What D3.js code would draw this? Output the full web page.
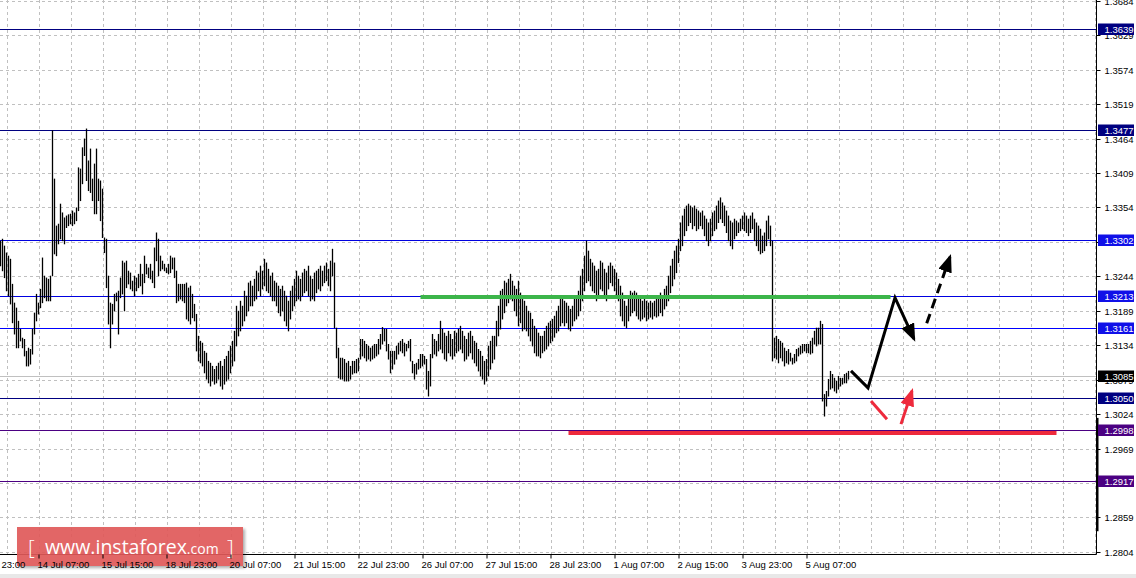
<!DOCTYPE html>
<html><head><meta charset="utf-8">
<script src="https://cdn.jsdelivr.net/npm/d3@7"></script>
<style>
html,body{margin:0;padding:0;background:#fff;}
svg{display:block;}
</style></head><body>
<svg id="c" width="1136" height="578"></svg>
<script>
// ---- data (H1 bars: high / low) ----
const highs=[
1.3301,1.3304,1.3293,1.3282,1.3277,1.3272,1.3232,1.3202,1.3194,1.3173,
1.3160,1.3146,1.3144,1.3125,1.3130,1.3128,1.3160,1.3186,1.3216,1.3202,
1.3224,1.3274,1.3245,1.3242,1.3240,1.3245,1.3477,1.3400,1.3325,1.3328,
1.3360,1.3346,1.3338,1.3341,1.3343,1.3344,1.3349,1.3346,1.3354,1.3418,
1.3416,1.3450,1.3464,1.3480,1.3429,1.3448,1.3400,1.3424,1.3448,1.3400,
1.3397,1.3384,1.3306,1.3304,1.3245,1.3202,1.3200,1.3216,1.3218,1.3221,
1.3242,1.3269,1.3266,1.3269,1.3253,1.3250,1.3237,1.3245,1.3242,1.3248,
1.3264,1.3248,1.3277,1.3264,1.3258,1.3264,1.3253,1.3290,1.3314,1.3304,
1.3277,1.3269,1.3264,1.3258,1.3264,1.3277,1.3274,1.3274,1.3253,1.3232,
1.3232,1.3232,1.3232,1.3234,1.3226,1.3229,1.3216,1.3200,1.3184,1.3149,
1.3141,1.3138,1.3125,1.3122,1.3109,1.3106,1.3101,1.3096,1.3101,1.3106,
1.3109,1.3101,1.3112,1.3117,1.3125,1.3133,1.3141,1.3157,1.3197,1.3189,
1.3205,1.3197,1.3221,1.3213,1.3234,1.3237,1.3229,1.3240,1.3253,1.3250,
1.3261,1.3253,1.3272,1.3266,1.3256,1.3245,1.3250,1.3237,1.3234,1.3229,
1.3224,1.3229,1.3221,1.3213,1.3205,1.3221,1.3229,1.3240,1.3253,1.3245,
1.3240,1.3250,1.3256,1.3253,1.3261,1.3245,1.3240,1.3250,1.3253,1.3256,
1.3261,1.3253,1.3261,1.3266,1.3256,1.3269,1.3288,1.3266,1.3162,1.3130,
1.3114,1.3114,1.3112,1.3106,1.3109,1.3101,1.3109,1.3109,1.3112,1.3114,
1.3144,1.3144,1.3141,1.3136,1.3133,1.3130,1.3133,1.3136,1.3136,1.3144,
1.3152,1.3163,1.3160,1.3160,1.3136,1.3125,1.3125,1.3125,1.3133,1.3138,
1.3141,1.3144,1.3138,1.3136,1.3141,1.3144,1.3109,1.3104,1.3106,1.3112,
1.3120,1.3120,1.3117,1.3112,1.3093,1.3120,1.3152,1.3144,1.3141,1.3152,
1.3173,1.3160,1.3154,1.3149,1.3157,1.3152,1.3144,1.3157,1.3154,1.3160,
1.3165,1.3157,1.3149,1.3144,1.3154,1.3157,1.3149,1.3141,1.3138,1.3128,
1.3125,1.3117,1.3109,1.3112,1.3133,1.3141,1.3149,1.3149,1.3173,1.3197,
1.3221,1.3224,1.3237,1.3234,1.3240,1.3248,1.3237,1.3229,1.3224,1.3237,
1.3218,1.3213,1.3205,1.3197,1.3189,1.3186,1.3176,1.3165,1.3160,1.3154,
1.3149,1.3149,1.3157,1.3165,1.3170,1.3173,1.3176,1.3181,1.3189,1.3197,
1.3213,1.3208,1.3205,1.3202,1.3197,1.3192,1.3197,1.3208,1.3213,1.3221,
1.3245,1.3256,1.3277,1.3301,1.3285,1.3272,1.3266,1.3261,1.3253,1.3256,
1.3269,1.3266,1.3256,1.3250,1.3261,1.3266,1.3261,1.3256,1.3250,1.3240,
1.3229,1.3218,1.3205,1.3197,1.3213,1.3221,1.3218,1.3221,1.3218,1.3213,
1.3208,1.3205,1.3208,1.3205,1.3202,1.3205,1.3202,1.3205,1.3208,1.3213,
1.3218,1.3213,1.3224,1.3229,1.3245,1.3261,1.3272,1.3285,1.3293,1.3304,
1.3330,1.3341,1.3352,1.3357,1.3360,1.3357,1.3354,1.3357,1.3352,1.3349,
1.3346,1.3349,1.3341,1.3336,1.3330,1.3336,1.3346,1.3349,1.3357,1.3365,
1.3370,1.3362,1.3357,1.3349,1.3341,1.3333,1.3330,1.3336,1.3333,1.3330,
1.3336,1.3341,1.3346,1.3341,1.3336,1.3341,1.3346,1.3336,1.3330,1.3325,
1.3320,1.3309,1.3314,1.3333,1.3341,1.3325,1.3301,1.3146,1.3149,1.3144,
1.3141,1.3138,1.3130,1.3125,1.3128,1.3122,1.3114,1.3120,1.3128,1.3130,
1.3133,1.3136,1.3136,1.3136,1.3136,1.3141,1.3146,1.3157,1.3162,1.3162,
1.3173,1.3168,1.3056,1.3061,1.3080,1.3093,1.3088,1.3082,1.3077,1.3085,
1.3082,1.3082,1.3088,1.3090,1.3093];
const lows=[
1.3261,1.3253,1.3242,1.3221,1.3213,1.3200,1.3170,1.3152,1.3130,1.3130,
1.3141,1.3130,1.3117,1.3101,1.3101,1.3104,1.3120,1.3152,1.3173,1.3184,
1.3194,1.3202,1.3210,1.3205,1.3205,1.3205,1.3245,1.3280,1.3277,1.3296,
1.3304,1.3301,1.3296,1.3322,1.3325,1.3328,1.3325,1.3328,1.3333,1.3349,
1.3365,1.3392,1.3437,1.3397,1.3381,1.3378,1.3365,1.3344,1.3344,1.3365,
1.3333,1.3306,1.3282,1.3226,1.3168,1.3130,1.3168,1.3189,1.3205,1.3152,
1.3210,1.3216,1.3189,1.3226,1.3232,1.3224,1.3221,1.3213,1.3221,1.3226,
1.3229,1.3216,1.3234,1.3248,1.3242,1.3240,1.3234,1.3226,1.3269,1.3245,
1.3253,1.3256,1.3253,1.3250,1.3248,1.3250,1.3256,1.3242,1.3202,1.3205,
1.3208,1.3205,1.3202,1.3176,1.3173,1.3168,1.3178,1.3173,1.3125,1.3109,
1.3106,1.3101,1.3090,1.3080,1.3074,1.3069,1.3077,1.3072,1.3074,1.3080,
1.3069,1.3064,1.3072,1.3077,1.3080,1.3090,1.3101,1.3109,1.3133,1.3149,
1.3157,1.3165,1.3173,1.3181,1.3189,1.3197,1.3197,1.3205,1.3208,1.3221,
1.3213,1.3224,1.3229,1.3221,1.3218,1.3213,1.3205,1.3205,1.3197,1.3186,
1.3181,1.3189,1.3173,1.3165,1.3157,1.3176,1.3189,1.3197,1.3205,1.3208,
1.3205,1.3213,1.3218,1.3221,1.3213,1.3205,1.3208,1.3205,1.3218,1.3224,
1.3221,1.3229,1.3234,1.3237,1.3229,1.3221,1.3245,1.3162,1.3114,1.3082,
1.3080,1.3080,1.3077,1.3077,1.3077,1.3080,1.3088,1.3090,1.3090,1.3093,
1.3112,1.3117,1.3114,1.3109,1.3112,1.3109,1.3112,1.3114,1.3117,1.3120,
1.3128,1.3136,1.3141,1.3125,1.3112,1.3090,1.3096,1.3104,1.3112,1.3120,
1.3125,1.3122,1.3117,1.3125,1.3130,1.3109,1.3090,1.3080,1.3088,1.3096,
1.3098,1.3101,1.3104,1.3064,1.3053,1.3069,1.3114,1.3120,1.3117,1.3125,
1.3128,1.3122,1.3112,1.3109,1.3122,1.3117,1.3112,1.3117,1.3122,1.3125,
1.3128,1.3122,1.3109,1.3112,1.3117,1.3122,1.3112,1.3106,1.3101,1.3093,
1.3085,1.3080,1.3072,1.3077,1.3085,1.3096,1.3106,1.3112,1.3133,1.3149,
1.3160,1.3176,1.3186,1.3197,1.3202,1.3208,1.3205,1.3189,1.3181,1.3165,
1.3170,1.3157,1.3160,1.3157,1.3149,1.3141,1.3133,1.3122,1.3117,1.3117,
1.3114,1.3122,1.3125,1.3128,1.3133,1.3138,1.3141,1.3147,1.3154,1.3157,
1.3165,1.3170,1.3165,1.3170,1.3160,1.3157,1.3165,1.3173,1.3176,1.3181,
1.3189,1.3205,1.3221,1.3234,1.3237,1.3229,1.3221,1.3218,1.3205,1.3213,
1.3224,1.3221,1.3213,1.3205,1.3224,1.3234,1.3229,1.3221,1.3213,1.3205,
1.3181,1.3173,1.3165,1.3162,1.3173,1.3181,1.3186,1.3189,1.3181,1.3176,
1.3173,1.3176,1.3179,1.3173,1.3176,1.3179,1.3176,1.3181,1.3179,1.3181,
1.3186,1.3181,1.3192,1.3197,1.3205,1.3218,1.3229,1.3240,1.3250,1.3266,
1.3285,1.3293,1.3309,1.3317,1.3325,1.3330,1.3320,1.3325,1.3317,1.3320,
1.3325,1.3320,1.3309,1.3301,1.3293,1.3301,1.3309,1.3317,1.3320,1.3330,
1.3336,1.3330,1.3325,1.3314,1.3301,1.3293,1.3288,1.3304,1.3309,1.3314,
1.3317,1.3320,1.3317,1.3314,1.3309,1.3314,1.3320,1.3301,1.3293,1.3285,
1.3280,1.3282,1.3285,1.3293,1.3304,1.3293,1.3109,1.3114,1.3112,1.3106,
1.3114,1.3109,1.3101,1.3106,1.3104,1.3109,1.3104,1.3106,1.3109,1.3117,
1.3120,1.3122,1.3125,1.3122,1.3122,1.3120,1.3122,1.3136,1.3133,1.3136,
1.3136,1.3045,1.3021,1.3037,1.3053,1.3064,1.3066,1.3061,1.3058,1.3064,
1.3069,1.3072,1.3074,1.3074,1.3080];

const yTicks=[1.3684,1.3629,1.3574,1.3519,1.3464,1.3409,1.3354,1.3299,1.3244,1.3189,1.3134,1.3079,1.3024,1.2969,1.2914,1.2859,1.2804];
const xTickIdx=[-13,19,51,83,115,147,179,211,243,275,307,339,371,403];
const xTickLabels=["13 Jul 23:00","14 Jul 07:00","15 Jul 15:00","18 Jul 23:00","20 Jul 07:00","21 Jul 15:00","22 Jul 23:00","26 Jul 07:00","27 Jul 15:00","28 Jul 23:00","1 Aug 07:00","2 Aug 15:00","3 Aug 23:00","5 Aug 07:00"];

const levelPrices=[1.3639,1.3477,1.3302,1.3213,1.3161,1.3085,1.3050,1.2998,1.2917];
const levelLineColors=["#000080","#000080","#0000e0","#0000e0","#0000ff","#c0c0c0","#000080","#4b0082","#4b0082"];
const levelBoxColors=["#000080","#000080","#1010e8","#1010e8","#1010e8","#000000","#000080","#4b0082","#4b0082"];

const greenSeg=[[210,1.3211],[445,1.3211]];
const redSeg=[[284,1.2994],[528,1.2994]];
const blackPath=[[425.25,1.3093],[433.75,1.3066],[447.25,1.3210],[456.75,1.3144]];
const blackDash=[[463.1,1.3169],[474.75,1.3275]];
const redDash1=[[435.25,1.3045],[443.25,1.3016]];
const redArrow=[[450.25,1.3008],[455.75,1.3061]];
const axisMark=[1.3018,1.2837];

// ---- drawing ----
const svg=d3.select('#c');
const plotR=1096.5, plotB=554.5;
const x=d3.scaleLinear().domain([0,1]).range([0.5,2.5]);
const y=d3.scaleLinear().domain([1.2804,1.3684]).range([551.9,0.8]);
const yr=p=>Math.round(y(p))+0.5;
const FONT="'Liberation Sans', Arial, sans-serif";

const defs=svg.append('defs');
defs.append('clipPath').attr('id','plot').append('rect').attr('x',0).attr('y',0).attr('width',1096).attr('height',554);
function marker(id,color){
  defs.append('marker').attr('id',id).attr('markerUnits','userSpaceOnUse')
    .attr('markerWidth',18).attr('markerHeight',14).attr('refX',15).attr('refY',7)
    .attr('orient','auto').attr('viewBox','0 0 18 14')
    .append('path').attr('d','M0,0 L18,7 L0,14 Z').attr('fill',color);
}
marker('ah-black','#000');
marker('ah-red','#ee2a3c');
const f=defs.append('filter').attr('id','sh').attr('x','-10%').attr('y','-20%').attr('width','130%').attr('height','150%');
f.append('feDropShadow').attr('dx',2).attr('dy',2).attr('stdDeviation',1.5).attr('flood-color','#000').attr('flood-opacity',0.35);

svg.append('rect').attr('width',1136).attr('height',578).attr('fill','#fff');
svg.append('rect').attr('x',0).attr('y',574).attr('width',1136).attr('height',4).attr('fill','#e8e8e8');

// grid
const grid=svg.append('g').attr('stroke','#c0c0c0').attr('stroke-dasharray','3,3').attr('stroke-width',1);
const gridIdx=d3.range(-13,560,16);
grid.selectAll('line.v').data(gridIdx).join('line').attr('class','v')
  .attr('x1',d=>Math.round(x(d))+0.5).attr('x2',d=>Math.round(x(d))+0.5).attr('y1',0).attr('y2',plotB);
grid.selectAll('line.h').data(yTicks).join('line').attr('class','h')
  .attr('x1',0).attr('x2',plotR).attr('y1',yr).attr('y2',yr);

const plot=svg.append('g').attr('clip-path','url(#plot)');

// level lines
plot.selectAll('line.lvl').data(levelPrices).join('line').attr('class','lvl')
  .attr('x1',0).attr('x2',plotR).attr('y1',yr).attr('y2',yr)
  .attr('stroke',(d,i)=>levelLineColors[i]).attr('stroke-width',1);

// bars
plot.append('g').selectAll('line').data(highs).join('line')
  .attr('x1',(d,i)=>x(i)).attr('x2',(d,i)=>x(i))
  .attr('y1',d=>y(d)).attr('y2',(d,i)=>y(lows[i])+0.5)
  .attr('stroke','#000').attr('stroke-width',1.3);

// green and red zones
const seg=d3.line().x(d=>x(d[0])).y(d=>y(d[1]));
plot.append('path').attr('d',seg(greenSeg)).attr('stroke','#3cb54a').attr('stroke-width',4).attr('fill','none');
plot.append('path').attr('d',seg(redSeg)).attr('stroke','#ee2a3c').attr('stroke-width',4).attr('fill','none');

// arrows
plot.append('path').attr('d',seg(blackPath)).attr('stroke','#000').attr('stroke-width',3).attr('fill','none')
  .attr('stroke-linejoin','miter').attr('marker-end','url(#ah-black)');
plot.append('path').attr('d',seg(blackDash)).attr('stroke','#000').attr('stroke-width',3).attr('fill','none')
  .attr('stroke-dasharray','10,6').attr('marker-end','url(#ah-black)');
plot.append('path').attr('d',seg(redDash1)).attr('stroke','#ee2a3c').attr('stroke-width',3).attr('fill','none');
plot.append('path').attr('d',seg(redArrow)).attr('stroke','#ee2a3c').attr('stroke-width',3).attr('fill','none')
  .attr('marker-end','url(#ah-red)');

// axes lines
svg.append('line').attr('x1',0).attr('x2',plotR).attr('y1',plotB).attr('y2',plotB).attr('stroke','#000');
svg.append('line').attr('x1',plotR).attr('x2',plotR).attr('y1',0).attr('y2',plotB).attr('stroke','#000');
svg.append('rect').attr('x',1096).attr('y',y(axisMark[0])).attr('width',2.5)
  .attr('height',y(axisMark[1])-y(axisMark[0])).attr('fill','#000');

// logo
const logo=svg.append('g');
logo.append('rect').attr('x',17).attr('y',527).attr('width',226).attr('height',39)
  .attr('fill','#e05a5a').attr('opacity',0.92).attr('filter','url(#sh)');
logo.append('text').attr('x',28).attr('y',555).attr('fill','#fff')
  .style('font-family',"'Open Sans', 'Noto Sans', sans-serif").style('font-size','21px').style('font-weight',300).text('[');
const lt=logo.append('text').attr('x',45).attr('y',554).attr('fill','#fff')
  .style('font-family',"'Open Sans', 'Noto Sans', sans-serif");
lt.append('tspan').style('font-size','19.5px').text('www.instaforex');
lt.append('tspan').style('font-size','14px').text('.com');
logo.append('text').attr('x',227).attr('y',555).attr('fill','#fff')
  .style('font-family',"'Open Sans', 'Noto Sans', sans-serif").style('font-size','21px').style('font-weight',300).text(']');

// right axis
const ra=svg.append('g').attr('transform',`translate(${plotR},0)`)
  .call(d3.axisRight(y).tickValues(yTicks).tickSize(4).tickPadding(4).tickFormat(d3.format('.4f')));
ra.select('.domain').remove();
ra.selectAll('.tick line').attr('stroke','#000');
ra.selectAll('.tick').attr('transform',d=>`translate(0,${yr(d)})`);
ra.selectAll('text').style('font-family',FONT).style('font-size','9.5px').attr('fill','#000');

// bottom axis
const ba=svg.append('g').attr('transform',`translate(0,${plotB})`)
  .call(d3.axisBottom(x).tickValues(xTickIdx).tickSize(4).tickFormat((d,i)=>xTickLabels[i]));
ba.select('.domain').remove();
ba.selectAll('.tick line').attr('stroke','#000');
ba.selectAll('text').style('font-family',FONT).style('font-size','9.5px').attr('fill','#000')
  .attr('text-anchor','start').attr('x',-1.5).attr('y',13).attr('dy',0);

// level price boxes
const lb=svg.append('g').selectAll('g').data(levelPrices).join('g')
  .attr('transform',d=>`translate(1098,${yr(d)})`);
lb.append('rect').attr('x',0).attr('y',-6).attr('width',36).attr('height',11.5)
  .attr('fill',(d,i)=>levelBoxColors[i]);
lb.append('text').attr('x',6.5).attr('y',0).attr('dy','0.34em').attr('fill','#fff')
  .style('font-family',FONT).style('font-size','9.5px').text(d=>d3.format('.4f')(d));
</script>
</body></html>
